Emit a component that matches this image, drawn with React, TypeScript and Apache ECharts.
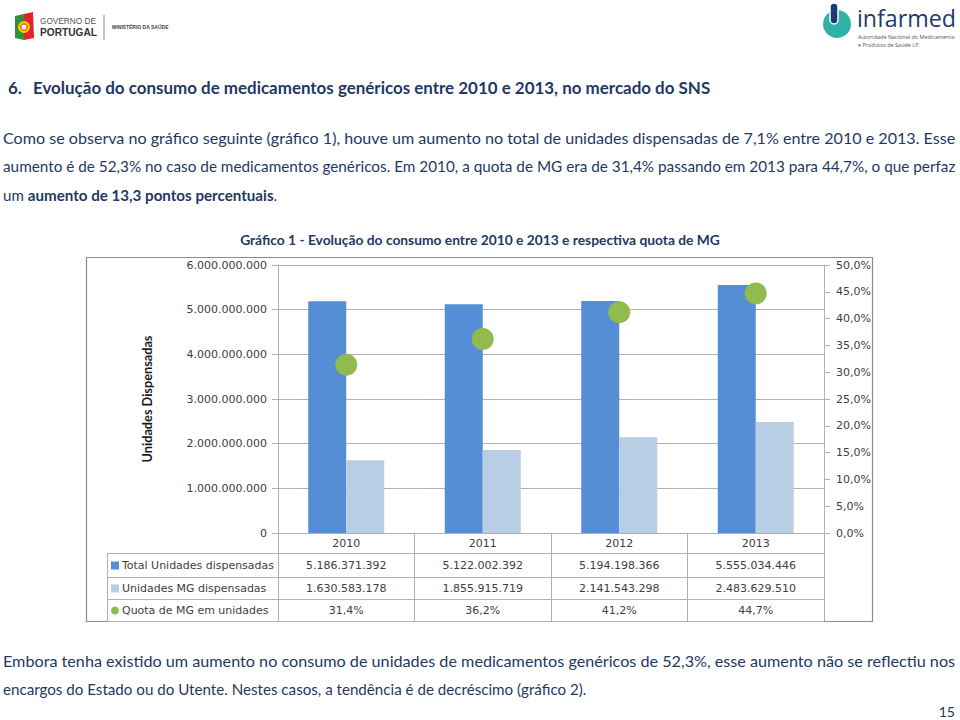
import React, { useEffect, useRef } from 'react';
import * as echarts from 'echarts';

// ---------- data ----------
const years = ['2010', '2011', '2012', '2013'];
const totalUnits = [5186371392, 5122002392, 5194198366, 5555034446];
const genericUnits = [1630583178, 1855915719, 2141543298, 2483629510];
const genericShare = [31.4, 36.2, 41.2, 44.7];
const seriesNames = ['Total Unidades dispensadas', 'Unidades MG dispensadas', 'Quota de MG em unidades'];
const yAxisTitle = 'Unidades Dispensadas';
const chartTitle = 'Gráfico 1 - Evolução do consumo entre 2010 e 2013 e respectiva quota de MG';

const headingNumber = '6.';
const headingText = 'Evolução do consumo de medicamentos genéricos entre 2010 e 2013, no mercado do SNS';
const introLine1 = 'Como se observa no gráfico seguinte (gráfico 1), houve um aumento no total de unidades dispensadas de 7,1% entre 2010 e 2013. Esse';
const introLine2 = 'aumento é de 52,3% no caso de medicamentos genéricos. Em 2010, a quota de MG era de 31,4% passando em 2013 para 44,7%, o que perfaz';
const introLine3a = 'um ';
const introLine3b = 'aumento de 13,3 pontos percentuais';
const introLine3c = '.';
const footLine1 = 'Embora tenha existido um aumento no consumo de unidades de medicamentos genéricos de 52,3%, esse aumento não se reflectiu nos';
const footLine2 = 'encargos do Estado ou do Utente. Nestes casos, a tendência é de decréscimo (gráfico 2).';
const pageNumber = '15';

// ---------- style ----------
const C_TOTAL = '#558ED5';
const C_MG = '#B9CDE5';
const C_SHARE = '#92BB4F';
const NAVY = '#1F3864';
const GRID = '#B0B0B0';
const AXTXT = '#404040';
const BODY_FONT = 'Lato';
const CHART_FONT = 'DejaVu Sans';

const fmtInt = (n: number) => String(Math.round(n)).replace(/\B(?=(\d{3})+(?!\d))/g, '.');
const fmtPct = (v: number) => v.toFixed(1).replace('.', ',') + '%';

let ctx: CanvasRenderingContext2D | null = null;
function measure(text: string, size: number, weight: string, family: string) {
  if (!ctx) ctx = document.createElement('canvas').getContext('2d');
  if (!ctx) return text.length * size * 0.5;
  ctx.font = `${weight} ${size}px "${family}"`;
  return ctx.measureText(text).width;
}
function fitSize(text: string, target: number, base: number, weight: string, family: string) {
  return (base * target) / measure(text, base, weight, family);
}

function txt(text: string, x: number, y: number, size: number, opts: any = {}) {
  return {
    type: 'text',
    x,
    y,
    z: 10,
    style: {
      text,
      fontSize: size,
      fontFamily: opts.family || BODY_FONT,
      fontWeight: opts.weight || 'normal',
      fill: opts.fill || NAVY,
      align: opts.align || 'left',
      verticalAlign: 'middle',
      rich: opts.rich,
    },
  };
}

export default function App() {
  const ref = useRef<HTMLDivElement>(null);

  useEffect(() => {
    if (!ref.current) return;
    const chart = echarts.init(ref.current, null, { renderer: 'svg' });

    const axisTitleSize = fitSize(yAxisTitle, 127, 13, 'bold', BODY_FONT);

    chart.setOption({
      animation: false,
      backgroundColor: '#ffffff',
      textStyle: { fontFamily: CHART_FONT },
      grid: { left: 278, right: 136, top: 265, bottom: 187 },
      xAxis: {
        type: 'category',
        data: years,
        axisLine: { show: true, lineStyle: { color: GRID, width: 1 } },
        axisTick: { show: true, length: 88, interval: 0, lineStyle: { color: GRID } },
        axisLabel: { color: AXTXT, fontSize: 11, margin: 5, fontFamily: CHART_FONT },
        splitLine: { show: false },
      },
      yAxis: [
        {
          type: 'value',
          min: 0,
          max: 6000000000,
          interval: 1000000000,
          name: yAxisTitle,
          nameLocation: 'middle',
          nameGap: 125,
          nameTextStyle: { fontFamily: BODY_FONT, fontWeight: 'bold', fontSize: axisTitleSize, color: '#1a1a1a' },
          axisLine: { show: true, lineStyle: { color: GRID } },
          axisTick: { show: true, length: 6, lineStyle: { color: GRID } },
          axisLabel: { color: AXTXT, fontSize: 11, margin: 11, formatter: (v: number) => fmtInt(v), fontFamily: CHART_FONT },
          splitLine: { show: true, lineStyle: { color: GRID, width: 1 } },
        },
        {
          type: 'value',
          position: 'right',
          min: 0,
          max: 50,
          interval: 5,
          axisLine: { show: true, lineStyle: { color: GRID } },
          axisTick: { show: true, length: 6, lineStyle: { color: GRID } },
          axisLabel: { color: AXTXT, fontSize: 11, margin: 12, formatter: (v: number) => fmtPct(v), fontFamily: CHART_FONT },
          splitLine: { show: false },
        },
      ],
      series: [
        {
          name: seriesNames[0],
          type: 'bar',
          data: totalUnits,
          barWidth: 38,
          barGap: '0%',
          itemStyle: { color: C_TOTAL },
        },
        {
          name: seriesNames[1],
          type: 'bar',
          data: genericUnits,
          barWidth: 38,
          barGap: '0%',
          itemStyle: { color: C_MG },
        },
        {
          name: seriesNames[2],
          type: 'scatter',
          yAxisIndex: 1,
          data: genericShare,
          symbol: 'circle',
          symbolSize: 22,
          itemStyle: { color: C_SHARE, opacity: 1 },
          z: 5,
        },
      ],
    });

    const centers = years.map((y) => chart.convertToPixel({ xAxisIndex: 0 } as any, y) as number);

    // ---------- page text sizes ----------
    const bodySize = fitSize(footLine2, 584, 15, 'normal', BODY_FONT);
    const justified = (t: string) => {
      const s = fitSize(t, 952, bodySize, 'normal', BODY_FONT);
      return Math.max(bodySize * 0.95, Math.min(bodySize * 1.07, s));
    };
    const headSize = fitSize(headingText, 678, 17, 'bold', BODY_FONT);
    const titleSize = fitSize(chartTitle, 480, 14, 'bold', BODY_FONT);

    const labelSize = fitSize(seriesNames[0], 152, 11, 'normal', CHART_FONT);

    const g: any[] = [];

    // Header: Governo de Portugal
    g.push({ type: 'polygon', shape: { points: [[15, 16], [24, 14], [24, 40], [15, 38]] }, style: { fill: '#2F8F3A' } });
    g.push({ type: 'polygon', shape: { points: [[24, 14], [33, 12], [34, 38], [24, 40]] }, style: { fill: '#E3232C' } });
    g.push({ type: 'circle', shape: { cx: 24, cy: 27, r: 6 }, style: { fill: '#F4C300' } });
    g.push({ type: 'circle', shape: { cx: 24, cy: 27, r: 3 }, style: { fill: '#ffffff', stroke: '#D32F2F', lineWidth: 1 } });
    g.push(txt('GOVERNO DE', 40, 21, Math.min(9.5, fitSize('GOVERNO DE', 56, 9, 'normal', 'Liberation Sans')), { fill: '#555555', family: 'Liberation Sans' }));
    g.push(txt('PORTUGAL', 40, 32, Math.min(12, fitSize('PORTUGAL', 57, 11, 'bold', 'Liberation Sans')), { fill: '#333333', weight: 'bold', family: 'Liberation Sans' }));
    g.push({ type: 'line', shape: { x1: 104, y1: 15, x2: 104, y2: 40 }, style: { stroke: '#8A8A8A', lineWidth: 1 } });
    g.push(txt('MINISTÉRIO DA SAÚDE', 112, 27, 5, { fill: '#444444', weight: 'bold', family: 'Liberation Sans' }));

    // Header: infarmed
    g.push({ type: 'circle', shape: { cx: 837, cy: 24, r: 14 }, style: { fill: '#2DB3A6' } });
    g.push({ type: 'rect', shape: { x: 830, y: 3, width: 8, height: 21, r: 4 }, style: { fill: '#1E3A6E', stroke: '#ffffff', lineWidth: 1.5 } });
    g.push(txt('infarmed', 857, 18, fitSize('infarmed', 99, 26, 'normal', 'Open Sans'), { fill: '#1E3A6E', family: 'Open Sans' }));
    const subSize = fitSize('Autoridade Nacional do Medicamento', 97, 8, 'normal', 'Open Sans');
    g.push(txt('Autoridade Nacional do Medicamento', 858, 37, subSize, { fill: '#555555', family: 'Open Sans' }));
    g.push(txt('e Produtos de Saúde I.P.', 858, 45, subSize, { fill: '#555555', family: 'Open Sans' }));

    // Heading
    g.push(txt(headingNumber, 8, 87, headSize, { weight: 'bold' }));
    g.push(txt(headingText, 33, 87, headSize, { weight: 'bold' }));

    // Intro paragraph
    g.push(txt(introLine1, 3, 137, justified(introLine1)));
    g.push(txt(introLine2, 3, 166, justified(introLine2)));
    g.push(
      txt(`${introLine3a}{b|${introLine3b}}${introLine3c}`, 3, 195, bodySize, {
        rich: { b: { fontWeight: 'bold', fontSize: bodySize, fontFamily: BODY_FONT, fill: NAVY } },
      })
    );

    // Chart title
    g.push(txt(chartTitle, 480, 239, titleSize, { weight: 'bold', align: 'center' }));

    // Chart outer border
    g.push({
      type: 'rect',
      z: 0,
      shape: { x: 86.5, y: 257.5, width: 786, height: 364 },
      style: { fill: 'none', stroke: '#8C8C8C', lineWidth: 1.2 },
    });

    // Data table
    const tableLeft = 107;
    const tableRight = 824;
    const rowLines = [553, 577, 599, 621];
    rowLines.forEach((y) =>
      g.push({ type: 'line', shape: { x1: tableLeft, y1: y + 0.5, x2: tableRight, y2: y + 0.5 }, style: { stroke: GRID, lineWidth: 1 } })
    );
    g.push({ type: 'line', shape: { x1: tableLeft + 0.5, y1: 553, x2: tableLeft + 0.5, y2: 621 }, style: { stroke: GRID, lineWidth: 1 } });

    const rows = [
      { name: seriesNames[0], color: C_TOTAL, circle: false, values: totalUnits.map(fmtInt) },
      { name: seriesNames[1], color: C_MG, circle: false, values: genericUnits.map(fmtInt) },
      { name: seriesNames[2], color: C_SHARE, circle: true, values: genericShare.map(fmtPct) },
    ];
    rows.forEach((r, i) => {
      const cy = (rowLines[i] + rowLines[i + 1]) / 2 + 0.5;
      if (r.circle) {
        g.push({ type: 'circle', shape: { cx: 115, cy, r: 4 }, style: { fill: r.color } });
      } else {
        g.push({ type: 'rect', shape: { x: 111, y: cy - 4, width: 8, height: 8 }, style: { fill: r.color } });
      }
      g.push(txt(r.name, 122, cy, labelSize, { family: CHART_FONT, fill: AXTXT }));
      r.values.forEach((v, j) => {
        g.push(txt(v, centers[j], cy, 11, { family: CHART_FONT, fill: AXTXT, align: 'center' }));
      });
    });

    // Footer
    g.push(txt(footLine1, 3, 660, justified(footLine1)));
    g.push(txt(footLine2, 3, 689, bodySize));
    g.push(txt(pageNumber, 955, 711, 14, { align: 'right' }));

    chart.setOption({ graphic: g });

    return () => chart.dispose();
  }, []);

  return (
    <div
      ref={ref}
      style={{ position: 'absolute', left: 0, top: 0, width: 960, height: 720, background: '#ffffff' }}
    />
  );
}
